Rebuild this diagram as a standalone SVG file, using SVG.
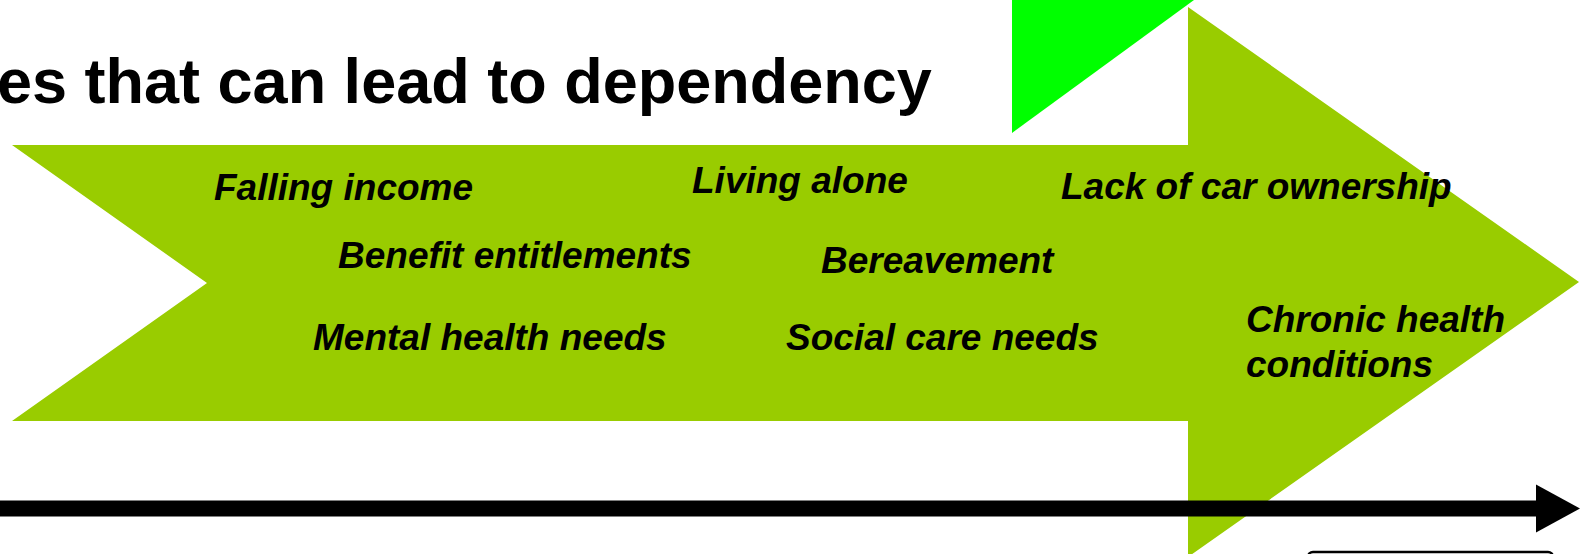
<svg xmlns="http://www.w3.org/2000/svg" width="1580" height="554" viewBox="0 0 1580 554">
<style>
.title{font-family:"Liberation Sans",Arial,sans-serif;font-weight:bold;font-size:63px;fill:#000}
.lbl{font-family:"Liberation Sans",Arial,sans-serif;font-weight:bold;font-style:italic;font-size:37px;fill:#000}
</style>
<defs>
<marker id="ah" markerUnits="userSpaceOnUse" markerWidth="46" markerHeight="50" refX="0" refY="25" orient="auto">
<path d="M0,1 L44,25 L0,49 Z" fill="#000"/>
</marker>
</defs>
<rect width="1580" height="554" fill="#fff"/>
<g id="title"><text class="title" x="-3" y="103">es that can lead to dependency</text></g>
<g id="green-triangle"><polygon points="1012,0 1194,0 1012,133" fill="#00ff00"/></g>
<g id="chevron">
<polygon points="12,145 1188,145 1188,7 1579,282 1188,557 1188,421 12,421 207,283" fill="#99cc00"/>
</g>
<g id="labels">
<text class="lbl" x="214" y="200">Falling income</text>
<text class="lbl" x="338" y="268">Benefit entitlements</text>
<text class="lbl" x="313" y="350">Mental health needs</text>
<text class="lbl" x="692" y="193">Living alone</text>
<text class="lbl" x="821" y="273">Bereavement</text>
<text class="lbl" x="786" y="350">Social care needs</text>
<text class="lbl" x="1061" y="199">Lack of car ownership</text>
<text class="lbl" x="1246" y="332">Chronic health</text>
<text class="lbl" x="1246" y="377">conditions</text>
</g>
<g id="connectors">
<line x1="0" y1="508.5" x2="1536" y2="508.5" stroke="#000" stroke-width="16" marker-end="url(#ah)"/>
</g>
<g id="bottom-box"><rect x="1308" y="552" width="245" height="60" rx="5" fill="#fff" stroke="#000" stroke-width="2.5"/></g>
</svg>
